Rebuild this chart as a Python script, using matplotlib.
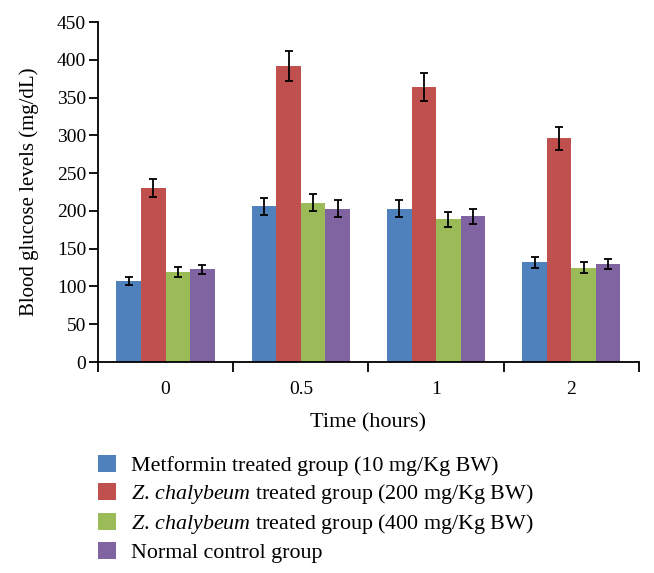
import matplotlib.pyplot as plt
import numpy as np
from matplotlib.patches import Patch

plt.rcParams['font.family'] = ['Liberation Serif', 'DejaVu Serif']
plt.rcParams['mathtext.fontset'] = 'custom'
plt.rcParams['mathtext.it'] = 'Liberation Serif:italic'
plt.rcParams['mathtext.rm'] = 'Liberation Serif'

# --------------------------------------------------------------
# data
times = ['0', '0.5', '1', '2']
groups = ['Metformin treated group (10 mg/Kg BW)',
          r'$Z.\,chalybeum$ treated group (200 mg/Kg BW)',
          r'$Z.\,chalybeum$ treated group (400 mg/Kg BW)',
          'Normal control group']
metformin = [107, 206, 203, 132]
zc200 = [230, 392, 364, 296]
zc400 = [119, 211, 189, 125]
control = [123, 203, 193, 130]
err_metformin = [5, 11, 11, 7]
err_zc200 = [12, 20, 19, 15]
err_zc400 = [7, 11, 10, 7]
err_control = [6, 11, 10, 7]

colors = ['#4F81BD', '#C0504D', '#9BBB59', '#8064A2']

# --------------------------------------------------------------
fig = plt.figure(figsize=(6.54, 5.73), dpi=100)
ax = fig.add_axes([0.1498, 0.3682, 0.8272, 0.5934])

x = np.arange(len(times))
w = 0.1815
series = [metformin, zc200, zc400, control]
errs = [err_metformin, err_zc200, err_zc400, err_control]
for i, (vals, e) in enumerate(zip(series, errs)):
    ax.bar(x + (i - 1.5) * w, vals, w, color=colors[i], edgecolor='none',
           yerr=e, capsize=3, error_kw=dict(elinewidth=1.3, capthick=1.3,
                                            ecolor='black'))

ax.set_xlim(-0.5, 3.5)
ax.set_ylim(0, 450)
ax.set_yticks(np.arange(0, 451, 50))

# category separators as major ticks, labels on minor ticks
ax.set_xticks(np.arange(-0.5, 4, 1))
ax.set_xticklabels([])
ax.set_xticks(x, minor=True)
ax.set_xticklabels(times, minor=True, fontsize=14)
ax.tick_params(axis='x', which='major', length=7, width=1.3, direction='out')
ax.tick_params(axis='x', which='minor', length=0, pad=13.5)
ax.tick_params(axis='y', length=6.5, width=1.3, direction='out', labelsize=14,
               pad=2)

for s in ['top', 'right']:
    ax.spines[s].set_visible(False)
for s in ['left', 'bottom']:
    ax.spines[s].set_linewidth(1.3)

ax.set_ylabel('Blood glucose levels (mg/dL)', fontsize=15, labelpad=13)
ax.set_xlabel('Time (hours)', fontsize=16, labelpad=11)

handles = [Patch(facecolor=c, edgecolor='none') for c in colors]
fig.legend(handles, groups, loc='upper left', bbox_to_anchor=(0.1367, 0.222),
           frameon=False, fontsize=15.8, handlelength=0.83, handleheight=0.83,
           handletextpad=0.68, labelspacing=0.28, borderaxespad=0)

fig.savefig('out.png', dpi=100)
